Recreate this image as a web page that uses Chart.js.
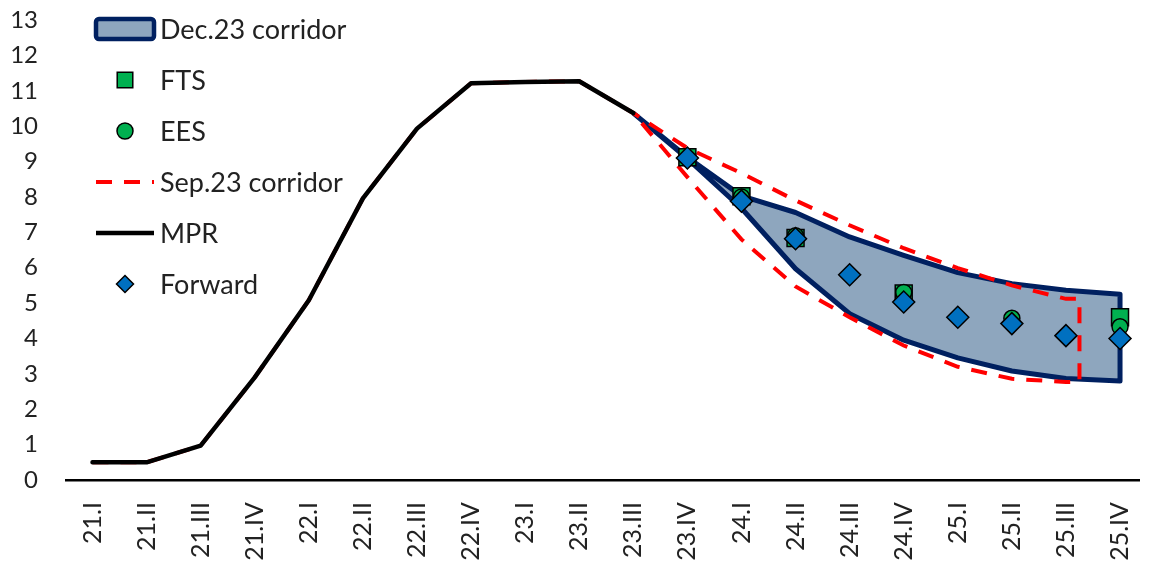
<!DOCTYPE html>
<html>
<head>
<meta charset="utf-8">
<script src="https://cdn.jsdelivr.net/npm/chart.js@4.4.1/dist/chart.umd.min.js"></script>
<style>
  html, body { margin: 0; padding: 0; background: #fff; overflow: hidden; }
  #wrap { width: 1153px; height: 561px; }
</style>
</head>
<body>
<div id="wrap"><canvas id="chart" width="1153" height="561"></canvas></div>
<script>
// Quarterly categories
const quarters = ['21.I','21.II','21.III','21.IV','22.I','22.II','22.III','22.IV',
                  '23.I','23.II','23.III','23.IV','24.I','24.II','24.III','24.IV',
                  '25.I','25.II','25.III','25.IV'];
const yTicks = [0,1,2,3,4,5,6,7,8,9,10,11,12,13];

// Monetary policy rate (history), %
const mpr = [0.5, 0.5, 0.97, 2.9, 5.08, 7.96, 9.93, 11.21, 11.25, 11.27, 10.37,
             null, null, null, null, null, null, null, null, null];

// December 2023 corridor bounds
const dec23Upper = [null,null,null,null,null,null,null,null,null,null,
                    10.37, 9.12, 8.03, 7.56, 6.87, 6.35, 5.86, 5.55, 5.36, 5.25];
const dec23Lower = [null,null,null,null,null,null,null,null,null,null,
                    10.37, 9.08, 7.68, 5.97, 4.70, 3.95, 3.45, 3.08, 2.87, 2.80];

// September 2023 corridor bounds (ends a quarter-step past 25.III)
const sep23Upper = [null,null,null,null,null,null,null,null,null,null,
                    10.37, 9.38, 8.67, 7.90, 7.20, 6.55, 5.99, 5.50, 5.12, null];
const sep23Lower = [null,null,null,null,null,null,null,null,null,null,
                    10.37, 8.56, 6.80, 5.47, 4.60, 3.80, 3.20, 2.86, 2.77, null];
const sep23EdgeX = 18.25;

// Surveys and market-implied path
const fts = [null,null,null,null,null,null,null,null,null,null,
             null, 9.12, 8.02, 6.84, null, 5.27, null, null, null, 4.60];
const ees = [null,null,null,null,null,null,null,null,null,null,
             null, null, 8.00, 6.90, null, 5.30, null, 4.57, null, 4.33];
const forward = [null,null,null,null,null,null,null,null,null,null,
                 null, 9.10, 7.88, 6.82, 5.80, 5.03, 4.60, 4.42, 4.08, 4.00];

// ---- helpers to turn the arrays into {x, y} points ----
const pts = arr => arr.map((v, i) => v == null ? null : { x: i, y: v }).filter(Boolean);
const idx = arr => arr.map((v, i) => v == null ? -1 : i).filter(i => i >= 0);

// Dec.23 corridor polygon: along the upper bound, back along the lower bound
const decIdx = idx(dec23Upper);
const dec23Shape = decIdx.map(i => ({ x: i, y: dec23Upper[i] }))
  .concat(decIdx.slice().reverse().map(i => ({ x: i, y: dec23Lower[i] })));

// Sep.23 corridor: history, upper bound, closing edge, lower bound back
const sepIdx = idx(sep23Upper);
const last = sepIdx[sepIdx.length - 1];
const sep23Path = pts(mpr).slice(0, -1)
  .concat(sepIdx.map(i => ({ x: i, y: sep23Upper[i] })))
  .concat([{ x: sep23EdgeX, y: sep23Upper[last] }, { x: sep23EdgeX, y: sep23Lower[last] }])
  .concat(sepIdx.slice().reverse().map(i => ({ x: i, y: sep23Lower[i] })));

const NAVY = '#002060', CORRIDOR = '#8EA6BE', RED = '#FF0000';
const GREEN = '#00B050', BLUE = '#0070C0', TEXT = '#222222';
const FONT = 'Lato';

const datasets = [
  { label: 'Forward', data: pts(forward), showLine: false, pointStyle: 'rectRot',
    pointRadius: 11, pointBackgroundColor: BLUE, pointBorderColor: '#000', pointBorderWidth: 1.5,
    order: 0, legendIcon: 'point', legendRadius: 8.5 },
  { label: 'EES', data: pts(ees), showLine: false, pointStyle: 'circle',
    pointRadius: 8, pointBackgroundColor: GREEN, pointBorderColor: '#000', pointBorderWidth: 1.5,
    order: 1, legendIcon: 'point', legendRadius: 8 },
  { label: 'FTS', data: pts(fts), showLine: false, pointStyle: 'rect',
    pointRadius: 12, pointBackgroundColor: GREEN, pointBorderColor: '#000', pointBorderWidth: 1.5,
    order: 2, legendIcon: 'point', legendRadius: 11 },
  { label: 'MPR', data: pts(mpr), borderColor: '#000', borderWidth: 4.5, pointRadius: 0,
    borderJoinStyle: 'round', borderCapStyle: 'round', fill: false, tension: 0,
    order: 3, legendIcon: 'line' },
  { label: 'Sep.23 corridor', data: sep23Path, borderColor: RED, borderWidth: 4,
    borderDash: [16, 12], pointRadius: 0, fill: false, tension: 0,
    order: 4, legendIcon: 'line' },
  { label: 'Dec.23 corridor', data: dec23Shape, borderColor: NAVY, borderWidth: 5,
    backgroundColor: CORRIDOR, borderJoinStyle: 'round', pointRadius: 0, fill: 'shape', tension: 0,
    order: 5, legendIcon: 'box' }
];

const legendOrder = ['Dec.23 corridor', 'FTS', 'EES', 'Sep.23 corridor', 'MPR', 'Forward'];

// Legend drawn as a vertical list over the top-left of the plot
const sideLegend = {
  id: 'sideLegend',
  afterDraw(chart) {
    const ctx = chart.ctx;
    const iconX = 125, textX = 160, top = 29, step = 51;
    ctx.save();
    legendOrder.forEach((name, k) => {
      const ds = chart.data.datasets.find(d => d.label === name);
      const y = top + k * step;
      ctx.setLineDash([]);
      if (ds.legendIcon === 'box') {
        ctx.fillStyle = ds.backgroundColor;
        ctx.strokeStyle = ds.borderColor;
        ctx.lineWidth = 4.5;
        ctx.beginPath();
        ctx.roundRect(iconX - 29, y - 10, 58, 20, 3);
        ctx.fill();
        ctx.stroke();
      } else if (ds.legendIcon === 'line') {
        ctx.strokeStyle = ds.borderColor;
        ctx.lineWidth = ds.borderWidth;
        ctx.setLineDash(ds.borderDash || []);
        ctx.beginPath();
        ctx.moveTo(iconX - 29, y);
        ctx.lineTo(iconX + 29, y);
        ctx.stroke();
      } else {
        ctx.fillStyle = ds.pointBackgroundColor;
        ctx.strokeStyle = ds.pointBorderColor;
        ctx.lineWidth = ds.pointBorderWidth;
        Chart.helpers.drawPoint(ctx, { pointStyle: ds.pointStyle, radius: ds.legendRadius,
          rotation: 0, borderWidth: ds.pointBorderWidth }, iconX, y);
      }
      ctx.setLineDash([]);
      ctx.fillStyle = TEXT;
      ctx.font = '27px ' + FONT;
      ctx.textAlign = 'left';
      ctx.textBaseline = 'middle';
      ctx.fillText(name, textX, y + 1);
    });
    ctx.restore();
  }
};

// Axis boxes keep fixed sizes so the plot spans the full width
const noPad = s => { s.paddingTop = 0; s.paddingBottom = 0; s.paddingLeft = 0; s.paddingRight = 0; };

new Chart(document.getElementById('chart'), {
  type: 'line',
  data: { datasets },
  plugins: [sideLegend],
  options: {
    responsive: false,
    animation: false,
    events: [],
    layout: { padding: { top: 20, right: 0, left: 0, bottom: 0 } },
    plugins: { legend: { display: false }, tooltip: { enabled: false } },
    scales: {
      x: {
        type: 'linear', min: -0.49, max: 19.36,
        afterBuildTicks: s => { s.ticks = quarters.map((_, i) => ({ value: i })); },
        afterFit: s => { s.height = 81; noPad(s); },
        grid: { display: false, drawTicks: false },
        border: { display: true, color: '#000', width: 2.5 },
        ticks: {
          autoSkip: false, minRotation: 90, maxRotation: 90, padding: 22,
          color: TEXT, font: { family: FONT, size: 25 },
          callback: v => quarters[v]
        }
      },
      y: {
        min: 0, max: 13,
        afterBuildTicks: s => { s.ticks = yTicks.map(v => ({ value: v })); },
        afterFit: s => { s.width = 66; noPad(s); },
        grid: { display: false, drawTicks: false },
        border: { display: false },
        ticks: { padding: 28, color: TEXT, font: { family: FONT, size: 24 } }
      }
    }
  }
});
</script>
</body>
</html>
